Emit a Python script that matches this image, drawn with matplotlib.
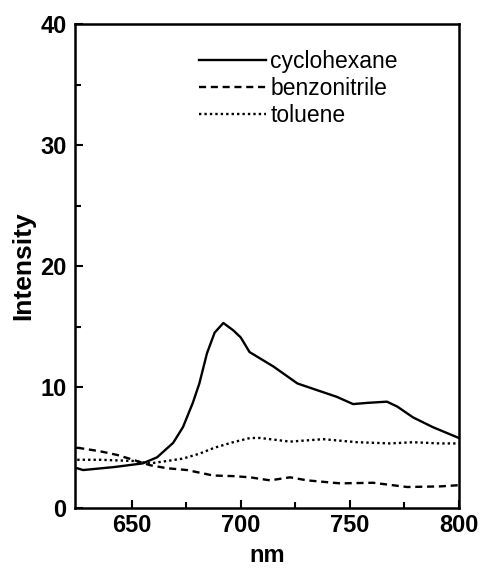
import matplotlib
matplotlib.use("Agg")
import matplotlib.pyplot as plt

plt.rcParams['font.family'] = ['Liberation Sans', 'DejaVu Sans']

# spectra (nm, intensity)
cyclohexane_nm = [625, 627.7, 642, 655, 661.6, 669, 673.5, 678, 681, 684.5, 688, 692,
                  696.5, 700, 704, 715, 726, 735, 744, 751.5, 758, 767, 771.7, 779, 788, 800]
cyclohexane = [3.3, 3.15, 3.4, 3.7, 4.2, 5.4, 6.7, 8.7, 10.3, 12.8, 14.5, 15.3,
               14.7, 14.1, 12.9, 11.7, 10.3, 9.75, 9.2, 8.6, 8.7, 8.8, 8.4, 7.5, 6.7, 5.8]

benzonitrile_nm = [625, 635.5, 643.3, 650.6, 658.4, 666.2, 675.4, 687.3, 696.5, 704.3,
                   713.4, 722.6, 730.4, 745.6, 760.7, 776.3, 791.4, 800]
benzonitrile = [5.0, 4.7, 4.4, 4.0, 3.55, 3.3, 3.15, 2.7, 2.65, 2.55,
                2.3, 2.55, 2.3, 2.05, 2.1, 1.75, 1.8, 1.9]

toluene_nm = [625, 635.5, 650.6, 658.4, 666.2, 673.5, 681, 688, 696.5, 704.3,
              708.9, 722.6, 737.8, 753.4, 768.5, 779, 791.4, 800]
toluene = [4.0, 4.0, 3.9, 3.7, 3.9, 4.1, 4.5, 5.0, 5.45, 5.8,
           5.8, 5.5, 5.7, 5.45, 5.35, 5.45, 5.35, 5.35]

fig = plt.figure(figsize=(4.81, 5.71), dpi=100)
ax = fig.add_axes([0.156, 0.110, 0.798, 0.848])

ax.plot(cyclohexane_nm, cyclohexane, color='black', lw=1.7, ls='-', label='cyclohexane')
ax.plot(benzonitrile_nm, benzonitrile, color='black', lw=1.7, ls=(0, (3, 2)), label='benzonitrile')
ax.plot(toluene_nm, toluene, color='black', lw=1.7, ls=(0, (1, 1.3)), label='toluene')

ax.set_xlim(624, 800)
ax.set_ylim(0, 40)
ax.set_xticks([650, 700, 750, 800])
ax.set_xticks([675, 725, 775], minor=True)
ax.set_yticks([0, 10, 20, 30, 40])
ax.set_yticks([5, 15, 25, 35], minor=True)
ax.tick_params(which='both', direction='in', top=False, right=False, width=1.5)
ax.tick_params(which='major', length=6)
ax.tick_params(axis='x', which='major', pad=4)
ax.tick_params(axis='y', which='major', pad=6)
ax.tick_params(which='minor', length=4)
for lab in ax.get_xticklabels() + ax.get_yticklabels():
    lab.set_fontweight('bold')
    lab.set_fontsize(17)
for sp in ax.spines.values():
    sp.set_linewidth(1.8)

ax.set_xlabel('nm', fontsize=17, fontweight='bold', labelpad=5)
ax.set_ylabel('Intensity', fontsize=19, fontweight='bold', labelpad=4)

ax.legend(loc='upper left', bbox_to_anchor=(0.30, 0.966), frameon=False,
          fontsize=16.5, handlelength=2.9, handletextpad=0.2, labelspacing=0.18,
          borderaxespad=0)

fig.savefig('out.png', dpi=100)
